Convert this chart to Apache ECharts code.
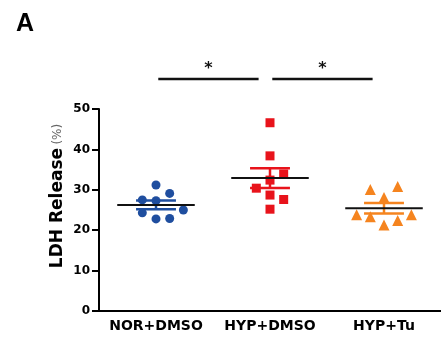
<!DOCTYPE html>
<html>
<head>
<meta charset="utf-8">
<script src="https://cdn.jsdelivr.net/npm/echarts@6/dist/echarts.min.js"></script>
<style>
  html, body { margin: 0; padding: 0; background: #fff; }
  #chart { width: 441px; height: 345px; }
</style>
</head>
<body>
<div id="chart"></div>
<script>
// groups on the x axis
var categories = ['NOR+DMSO', 'HYP+DMSO', 'HYP+Tu'];

// LDH release (%) of each sample
var norDmso = [31.2, 29.1, 27.5, 27.3, 24.3, 25.0, 22.8, 22.9];
var hypDmso = [46.6, 38.4, 33.9, 32.4, 30.4, 28.7, 27.6, 25.2];
var hypTu   = [30.1, 30.8, 28.1, 23.8, 23.3, 23.8, 22.4, 21.3];

// which column of the dot plot each sample sits in (-2..2)
var norSlot = [0, 1, -1, 0, -1, 2, 0, 1];
var hypSlot = [0, 0, 1, 0, -1, 0, 1, 0];
var tuSlot  = [-1, 1, 0, -2, -1, 2, 1, 0];

// significance brackets: [from group, to group, label]
var sigPairs = [[0, 1, '*'], [1, 2, '*']];

var yTicks = [0, 10, 20, 30, 40, 50];

var groups = [norDmso, hypDmso, hypTu];
var slots = [norSlot, hypSlot, tuSlot];
var colors = ['#1F4E9F', '#E8131B', '#F5841F'];
var symbols = ['circle', 'rect', 'triangle'];
var slotStep = 0.12;
var sigLevel = 57.4;

function mean(a) {
    var s = 0;
    a.forEach(function (v) { s += v; });
    return s / a.length;
}
function sem(a) {
    var m = mean(a), s = 0;
    a.forEach(function (v) { s += (v - m) * (v - m); });
    return Math.sqrt(s / (a.length - 1)) / Math.sqrt(a.length);
}

var chart = echarts.init(document.getElementById('chart'));

var series = [];
groups.forEach(function (vals, g) {
    series.push({
        type: 'scatter',
        xAxisIndex: 1,
        symbol: symbols[g],
        symbolSize: g === 2 ? 11 : 9,
        itemStyle: { color: colors[g], opacity: 1 },
        data: vals.map(function (v, i) {
            return [g + 0.5 + slots[g][i] * slotStep, v];
        }),
        z: 2
    });
});

// mean line + SEM whiskers
series.push({
    type: 'custom',
    xAxisIndex: 1,
    clip: false,
    z: 3,
    data: groups.map(function (vals, g) {
        return [g + 0.5, mean(vals), sem(vals), g];
    }),
    renderItem: function (params, api) {
        var cx = api.value(0), m = api.value(1), e = api.value(2);
        var col = colors[api.value(3)];
        var l = api.coord([cx - 0.34, m]), r = api.coord([cx + 0.34, m]);
        var top = api.coord([cx, m + e]), bot = api.coord([cx, m - e]);
        var capL = api.coord([cx - 0.175, m])[0], capR = api.coord([cx + 0.175, m])[0];
        var st = { stroke: col, lineWidth: 2.5 };
        return {
            type: 'group',
            children: [
                { type: 'line', shape: { x1: top[0], y1: top[1], x2: bot[0], y2: bot[1] }, style: st },
                { type: 'line', shape: { x1: capL, y1: top[1], x2: capR, y2: top[1] }, style: st },
                { type: 'line', shape: { x1: capL, y1: bot[1], x2: capR, y2: bot[1] }, style: st },
                { type: 'line', shape: { x1: l[0], y1: l[1], x2: r[0], y2: r[1] }, style: { stroke: '#111', lineWidth: 2 } }
            ]
        };
    }
});

// significance brackets
series.push({
    type: 'custom',
    xAxisIndex: 1,
    clip: false,
    z: 3,
    data: sigPairs.map(function (p) {
        return [p[0] + 0.5 + 0.02, p[1] + 0.5 - 0.1, sigLevel, p[2]];
    }),
    renderItem: function (params, api) {
        var a = api.coord([api.value(0), api.value(2)]);
        var b = api.coord([api.value(1), api.value(2)]);
        var txt = sigPairs[params.dataIndex][2];
        return {
            type: 'group',
            children: [
                { type: 'line', shape: { x1: a[0], y1: a[1], x2: b[0], y2: b[1] }, style: { stroke: '#111', lineWidth: 2.5 } },
                { type: 'text', x: (a[0] + b[0]) / 2, y: a[1] - 10,
                  style: { text: txt, fill: '#111', font: 'bold 16px "DejaVu Sans"', align: 'center', verticalAlign: 'middle' } }
            ]
        };
    }
});

chart.setOption({
    animation: false,
    backgroundColor: '#fff',
    title: {
        text: 'A',
        left: 11,
        top: 7,
        textStyle: { fontFamily: 'Liberation Sans', fontWeight: 'bold', fontSize: 25, color: '#000' }
    },
    grid: { left: 99, right: 0, top: 109, bottom: 34, containLabel: false },
    xAxis: [{
        type: 'category',
        data: categories,
        boundaryGap: true,
        axisLine: { lineStyle: { color: '#000', width: 2 } },
        axisTick: { show: false },
        axisLabel: { interval: 0, color: '#000', fontFamily: 'DejaVu Sans', fontWeight: 'bold', fontSize: 14, margin: 8 },
        splitLine: { show: false }
    }, {
        type: 'value',
        min: 0,
        max: 3,
        show: false,
        splitLine: { show: false }
    }],
    yAxis: {
        type: 'value',
        min: yTicks[0],
        max: yTicks[yTicks.length - 1],
        interval: 10,
        name: '{b|LDH Release} {p|(%)}',
        nameLocation: 'middle',
        nameGap: 33,
        nameMoveOverlap: false,
        nameTextStyle: {
            padding: [0, 0, 0, 28],
            rich: {
                b: { fontFamily: 'DejaVu Sans', fontWeight: 'bold', fontSize: 17, color: '#000' },
                p: { fontFamily: 'DejaVu Sans', fontSize: 12, color: '#666' }
            }
        },
        axisLine: { show: true, lineStyle: { color: '#000', width: 2 } },
        axisTick: { show: true, inside: false, length: 7, lineStyle: { color: '#000', width: 2 } },
        axisLabel: { color: '#000', fontFamily: 'DejaVu Sans', fontWeight: 'bold', fontSize: 12, margin: 9 },
        splitLine: { show: false }
    },
    series: series
});
</script>
</body>
</html>
